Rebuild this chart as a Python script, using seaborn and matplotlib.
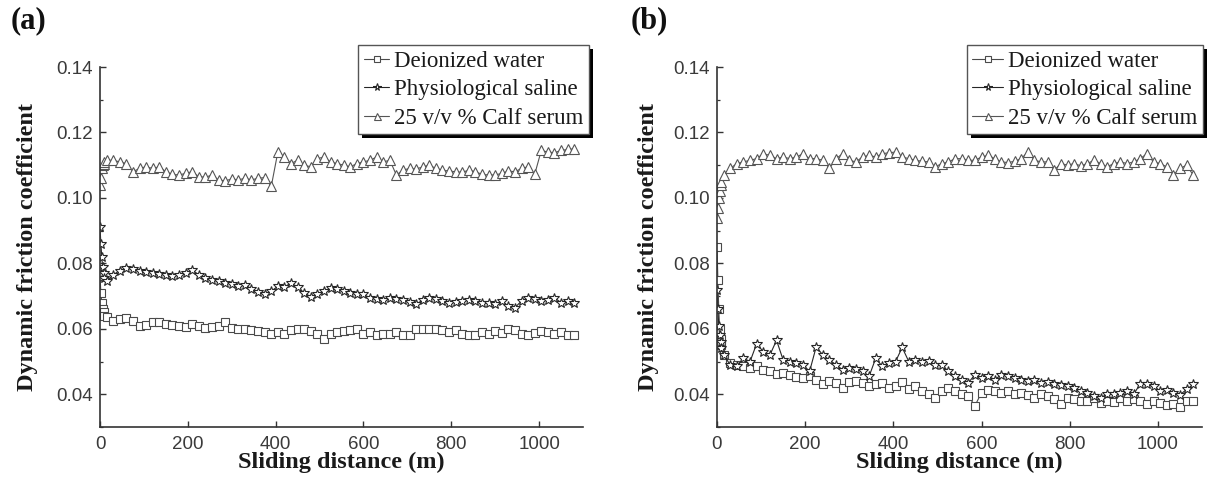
import matplotlib
matplotlib.use("Agg")
import matplotlib.pyplot as plt
import seaborn as sns
import pandas as pd
import numpy as np
from matplotlib.patches import Rectangle
from matplotlib.transforms import IdentityTransform
from matplotlib.ticker import MultipleLocator

# ---------------- data ----------------
distance = [0, 2, 4, 6, 8, 10, 15, 30, 45, 60,
            75, 90, 105, 120, 135, 150, 165, 180, 195, 210,
            225, 240, 255, 270, 285, 300, 315, 330, 345, 360,
            375, 390, 405, 420, 435, 450, 465, 480, 495, 510,
            525, 540, 555, 570, 585, 600, 615, 630, 645, 660,
            675, 690, 705, 720, 735, 750, 765, 780, 795, 810,
            825, 840, 855, 870, 885, 900, 915, 930, 945, 960,
            975, 990, 1005, 1020, 1035, 1050, 1065, 1080]

series_names = ["Deionized water", "Physiological saline", "25 v/v % Calf serum"]

a_water = [0.076, 0.071, 0.068, 0.066, 0.065, 0.064, 0.0635, 0.0625, 0.063, 0.0632,
           0.0625, 0.061, 0.0612, 0.0622, 0.062, 0.0615, 0.0612, 0.0608, 0.0605, 0.0615,
           0.061, 0.0602, 0.0605, 0.061, 0.062, 0.0603, 0.0598, 0.0598, 0.0595, 0.0592,
           0.059, 0.0585, 0.059, 0.0585, 0.0595, 0.060, 0.0598, 0.0592, 0.0585, 0.0570,
           0.0585, 0.059, 0.0592, 0.0595, 0.060, 0.0585, 0.059, 0.058, 0.0583, 0.0585,
           0.059, 0.058, 0.0582, 0.0598, 0.060, 0.0598, 0.060, 0.0596, 0.059, 0.0595,
           0.0585, 0.058, 0.0582, 0.059, 0.0585, 0.0592, 0.0588, 0.060, 0.0595, 0.0585,
           0.058, 0.0588, 0.0592, 0.059, 0.0585, 0.059, 0.0582, 0.0582]

a_saline = [0.091, 0.086, 0.082, 0.079, 0.077, 0.0755, 0.0745, 0.0765, 0.0778, 0.0785,
            0.0782, 0.0778, 0.0775, 0.0772, 0.0768, 0.0765, 0.0762, 0.0765, 0.077, 0.078,
            0.0765, 0.0755, 0.075, 0.0745, 0.074, 0.0738, 0.073, 0.0735, 0.0722, 0.0712,
            0.0705, 0.0715, 0.073, 0.0728, 0.074, 0.0728, 0.071, 0.0698, 0.0705, 0.0715,
            0.0725, 0.0722, 0.0715, 0.071, 0.0705, 0.0705, 0.0695, 0.069, 0.0688, 0.0695,
            0.0692, 0.0688, 0.0682, 0.0675, 0.0688, 0.0695, 0.069, 0.0685, 0.068, 0.0682,
            0.0685, 0.0688, 0.0685, 0.068, 0.0678, 0.0675, 0.0685, 0.067, 0.0665, 0.0685,
            0.0695, 0.069, 0.0685, 0.0688, 0.0695, 0.068, 0.0685, 0.068]

a_serum = [0.104, 0.106, 0.109, 0.110, 0.1105, 0.111, 0.1115, 0.1115, 0.111, 0.1105,
           0.108, 0.109, 0.1095, 0.109, 0.1095, 0.108, 0.1072, 0.107, 0.1075, 0.108,
           0.1065, 0.1063, 0.107, 0.1055, 0.1052, 0.1058, 0.1055, 0.106, 0.1055, 0.106,
           0.1062, 0.1035, 0.114, 0.1125, 0.1105, 0.1115, 0.110, 0.1095, 0.112, 0.1125,
           0.111, 0.1105, 0.110, 0.1095, 0.1105, 0.111, 0.1115, 0.1125, 0.111, 0.1115,
           0.107, 0.1085, 0.109, 0.1088, 0.1095, 0.110, 0.109, 0.1085, 0.1082, 0.108,
           0.1078, 0.1085, 0.108, 0.1072, 0.107, 0.107, 0.1075, 0.1082, 0.108, 0.109,
           0.1095, 0.1072, 0.1145, 0.114, 0.1138, 0.1145, 0.1148, 0.115]

b_water = [0.085, 0.075, 0.066, 0.060, 0.057, 0.055, 0.052, 0.0495, 0.049, 0.0485,
           0.048, 0.0485, 0.0475, 0.047, 0.0462, 0.0465, 0.0458, 0.0452, 0.045, 0.0455,
           0.0445, 0.043, 0.0442, 0.0435, 0.042, 0.0438, 0.044, 0.0435, 0.0425, 0.043,
           0.0435, 0.042, 0.0425, 0.0438, 0.0415, 0.0425, 0.041, 0.040, 0.039, 0.041,
           0.042, 0.041, 0.0402, 0.0395, 0.0365, 0.0405, 0.0412, 0.041, 0.0405, 0.041,
           0.040, 0.0405, 0.0398, 0.039, 0.040, 0.0395, 0.0385, 0.037, 0.039, 0.0385,
           0.0378, 0.038, 0.039, 0.0372, 0.038, 0.0375, 0.039, 0.038, 0.0385, 0.0378,
           0.037, 0.038, 0.0372, 0.0368, 0.037, 0.0362, 0.038, 0.038]

b_saline = [0.072, 0.066, 0.061, 0.058, 0.056, 0.054, 0.052, 0.049, 0.0485, 0.051,
            0.050, 0.0555, 0.053, 0.052, 0.0565, 0.0505, 0.050, 0.0495, 0.049, 0.047,
            0.0545, 0.052, 0.0505, 0.049, 0.0475, 0.048, 0.0478, 0.047, 0.0455, 0.051,
            0.0485, 0.0495, 0.050, 0.0543, 0.050, 0.0505, 0.050, 0.0502, 0.049, 0.049,
            0.047, 0.0455, 0.0445, 0.0435, 0.046, 0.045, 0.0455, 0.0445, 0.046, 0.0455,
            0.045, 0.0445, 0.044, 0.0445, 0.0435, 0.0438, 0.0432, 0.0428, 0.0425, 0.042,
            0.041, 0.0405, 0.0395, 0.039, 0.040, 0.040, 0.0405, 0.041, 0.040, 0.0432,
            0.043, 0.0425, 0.041, 0.0412, 0.0405, 0.0398, 0.0415, 0.043]

b_serum = [0.094, 0.097, 0.100, 0.102, 0.104, 0.105, 0.107, 0.109, 0.1105, 0.111,
           0.1115, 0.112, 0.1135, 0.113, 0.112, 0.1125, 0.112, 0.1125, 0.1135, 0.112,
           0.112, 0.1115, 0.109, 0.112, 0.1135, 0.1115, 0.111, 0.1125, 0.113, 0.1125,
           0.1135, 0.1138, 0.114, 0.1125, 0.112, 0.1115, 0.1112, 0.111, 0.1095, 0.1105,
           0.111, 0.112, 0.112, 0.1115, 0.1115, 0.1125, 0.113, 0.112, 0.111, 0.1108,
           0.1112, 0.112, 0.114, 0.1115, 0.111, 0.111, 0.1085, 0.1105, 0.110, 0.1105,
           0.1098, 0.1105, 0.1115, 0.1105, 0.1095, 0.1105, 0.111, 0.1105, 0.111, 0.112,
           0.1135, 0.111, 0.1105, 0.1095, 0.107, 0.109, 0.110, 0.107]

x_ticks = [0, 200, 400, 600, 800, 1000]
y_ticks = [0.04, 0.06, 0.08, 0.10, 0.12, 0.14]
panel_labels = ["(a)", "(b)"]
x_label = "Sliding distance (m)"
y_label = "Dynamic friction coefficient"

# ---------------- style ----------------
sns.set_style("ticks")
plt.rcParams["font.family"] = ["Liberation Sans", "DejaVu Sans"]
SERIF = ["Liberation Serif", "DejaVu Serif"]

markers = ["s", "*", "^"]
msizes = [6.3, 7.8, 7.2]
colors = ["#4a4a4a", "#262626", "#555555"]

fig = plt.figure(figsize=(12.11, 4.84), dpi=100)
ax_a = fig.add_axes([100 / 1211, 57 / 484, 483 / 1211, 360 / 484])
ax_b = fig.add_axes([717 / 1211, 57 / 484, 485 / 1211, 360 / 484])

panels = [
    (ax_a, [a_water, a_saline, a_serum], 1.1, (589 / 1211, 1 - 45 / 484), -0.128, (11 / 1211)),
    (ax_b, [b_water, b_saline, b_serum], 1.35, (1203 / 1211, 1 - 45 / 484), -0.12, (631 / 1211)),
]

for i, (ax, data, hl, leg_anchor, ylab_x, plab_x) in enumerate(panels):
    for name, vals, m, ms, c in zip(series_names, data, markers, msizes, colors):
        df = pd.DataFrame({"distance": distance, "mu": vals})
        sns.lineplot(data=df, x="distance", y="mu", ax=ax, label=name,
                     color=c, linewidth=0.8, marker=m, markersize=ms,
                     markerfacecolor="white", markeredgecolor=c,
                     markeredgewidth=0.8, estimator=None, sort=False)
    ax.set_facecolor("none")
    ax.set_xlim(0, 1100)
    ax.set_ylim(0.03, 0.14)
    ax.set_xticks(x_ticks)
    ax.set_yticks(y_ticks)
    ax.set_yticklabels([f"{v:.2f}" for v in y_ticks])
    ax.yaxis.set_minor_locator(MultipleLocator(0.01))
    sns.despine(ax=ax)
    for sp in ["left", "bottom"]:
        ax.spines[sp].set_linewidth(1.2)
        ax.spines[sp].set_color("#333333")
    ax.tick_params(axis="both", which="major", direction="in", length=4.5,
                   width=1.0, color="#333333", labelsize=13.5,
                   labelcolor="#3a3a3a", pad=5)
    ax.tick_params(axis="x", which="major", pad=6.5)
    ax.tick_params(axis="y", which="minor", direction="in", length=2.5,
                   width=0.9, color="#333333")
    ax.set_xlabel(x_label, fontsize=17.5, fontweight="bold", family=SERIF,
                  color="#1a1a1a")
    ax.set_ylabel(y_label, fontsize=17.5, fontweight="bold", family=SERIF,
                  color="#1a1a1a")
    ax.xaxis.set_label_coords(0.5, -0.068)
    ax.yaxis.set_label_coords(ylab_x, 0.5)

    leg = ax.legend(loc="upper right", bbox_to_anchor=leg_anchor,
                    bbox_transform=fig.transFigure, frameon=True, fancybox=False,
                    framealpha=1, edgecolor="#555555",
                    prop={"family": SERIF, "size": 16.5},
                    handlelength=hl, handletextpad=0.2, borderpad=0.25,
                    labelspacing=0.32, borderaxespad=0, numpoints=1,
                    markerscale=0.7)
    leg.get_frame().set_linewidth(1.0)
    leg.set_zorder(10)
    for t in leg.get_texts():
        t.set_color("#1a1a1a")

    fig.text(plab_x, 1 - 6 / 484, panel_labels[i], fontsize=22, fontweight="bold",
             family=SERIF, va="top", ha="left", color="#111111")

# black drop shadow behind each legend
fig.canvas.draw()
renderer = fig.canvas.get_renderer()
for ax in (ax_a, ax_b):
    leg = ax.get_legend()
    bb = leg.get_window_extent(renderer)
    sh = Rectangle((bb.x0 + 4, bb.y0 - 4), bb.width, bb.height,
                   transform=IdentityTransform(), facecolor="black",
                   edgecolor="none", zorder=9.5, clip_on=False)
    ax.add_patch(sh)

fig.savefig("out.png", dpi=100, facecolor="white")
